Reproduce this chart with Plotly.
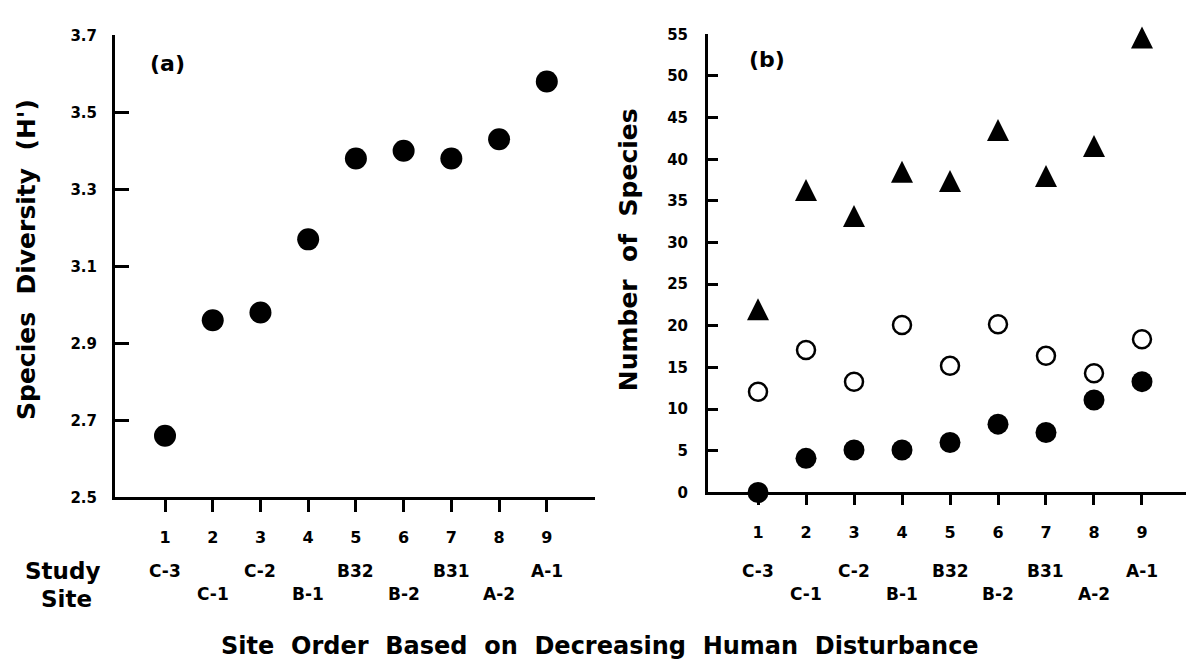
import plotly.graph_objects as go

# ---------------- data ----------------
site_order = [1, 2, 3, 4, 5, 6, 7, 8, 9]
site_codes = ["C-3", "C-1", "C-2", "B-1", "B32", "B-2", "B31", "A-2", "A-1"]
diversity_h = [2.66, 2.96, 2.98, 3.17, 3.38, 3.40, 3.38, 3.43, 3.58]
species_triangles = [22, 36.3, 33.2, 38.5, 37.4, 43.5, 38, 41.6, 54.6]
species_open = [12.1, 17.1, 13.3, 20.1, 15.2, 20.2, 16.4, 14.3, 18.4]
species_filled = [0, 4.1, 5.1, 5.1, 6, 8.2, 7.2, 11.1, 13.3]
div_ticks = [2.5, 2.7, 2.9, 3.1, 3.3, 3.5, 3.7]
species_ticks = [0, 5, 10, 15, 20, 25, 30, 35, 40, 45, 50, 55]

W, H = 1186, 662
FONT = "DejaVu Sans"

def px_x(p):
    return p / W

def px_y(p):
    return 1 - p / H

fig = go.Figure()

# panel (a)
fig.add_trace(go.Scatter(
    x=site_order, y=diversity_h, mode="markers", name="Species diversity",
    marker=dict(symbol="circle", size=22, color="black"),
    xaxis="x", yaxis="y", cliponaxis=False, showlegend=False))

# panel (b)
fig.add_trace(go.Scatter(
    x=site_order, y=species_triangles, mode="markers", name="Triangles",
    marker=dict(symbol="arrow-down", angle=180, standoff=11, size=22, color="black"),
    xaxis="x2", yaxis="y2", cliponaxis=False, showlegend=False))
fig.add_trace(go.Scatter(
    x=site_order, y=species_open, mode="markers", name="Open circles",
    marker=dict(symbol="circle", size=18, color="white",
                line=dict(color="black", width=2.5)),
    xaxis="x2", yaxis="y2", cliponaxis=False, showlegend=False))
fig.add_trace(go.Scatter(
    x=site_order, y=species_filled, mode="markers", name="Filled circles",
    marker=dict(symbol="circle", size=21, color="black"),
    xaxis="x2", yaxis="y2", cliponaxis=False, showlegend=False))

axis_common = dict(showline=True, linewidth=3, linecolor="black", showgrid=False,
                   zeroline=False, tickcolor="black", tickwidth=2.5)

fig.update_layout(
    width=W, height=H,
    margin=dict(l=0, r=0, t=0, b=0),
    paper_bgcolor="white", plot_bgcolor="rgba(0,0,0,0)",
    font=dict(family=FONT, color="black", weight="bold"),
    xaxis=dict(domain=[px_x(115), px_x(595)], range=[-0.048, 10.01],
               tickvals=site_order, ticktext=[str(v) for v in site_order],
               ticks="outside", ticklen=12, ticklabelstandoff=11,
               tickfont=dict(size=16, family=FONT, weight="bold"),
               anchor="y", **axis_common),
    yaxis=dict(domain=[px_y(502), px_y(27)], range=[2.5, 3.7],
               tickvals=div_ticks, ticktext=[f"{v:.1f}" for v in div_ticks],
               ticks="inside", ticklen=14, ticklabelstandoff=12,
               tickfont=dict(size=15, family=FONT, weight="bold"),
               anchor="x", **axis_common),
    xaxis2=dict(domain=[px_x(708), 1.0], range=[-0.042, 9.917],
                tickvals=site_order, ticktext=[str(v) for v in site_order],
                ticks="outside", ticklen=10, ticklabelstandoff=13,
                tickfont=dict(size=16, family=FONT, weight="bold"),
                anchor="y2", **axis_common),
    yaxis2=dict(domain=[px_y(497), px_y(26)], range=[0, 55],
                tickvals=species_ticks, ticktext=[str(v) for v in species_ticks],
                ticks="inside", ticklen=10, ticklabelstandoff=14,
                tickfont=dict(size=15, family=FONT, weight="bold"),
                anchor="x2", **axis_common),
)

ann = []
# panel labels
ann.append(dict(text="(a)", x=px_x(167), y=px_y(56), xref="paper", yref="paper",
                showarrow=False, font=dict(size=22), xanchor="center", yanchor="middle"))
ann.append(dict(text="(b)", x=px_x(767), y=px_y(52), xref="paper", yref="paper",
                showarrow=False, font=dict(size=22), xanchor="center", yanchor="middle"))
# axis titles
ann.append(dict(text="Species\u00a0 Diversity\u00a0 (H')", x=px_x(27), y=px_y(258),
                xref="paper", yref="paper", showarrow=False, textangle=-90,
                font=dict(size=25), xanchor="center", yanchor="middle"))
ann.append(dict(text="Number\u00a0 of\u00a0 Species", x=px_x(628), y=px_y(248),
                xref="paper", yref="paper", showarrow=False, textangle=-90,
                font=dict(size=25), xanchor="center", yanchor="middle"))
ann.append(dict(text="Site\u00a0 Order\u00a0 Based\u00a0 on\u00a0 Decreasing\u00a0 Human\u00a0 Disturbance",
                x=px_x(600), y=px_y(655), xref="paper", yref="paper", showarrow=False,
                font=dict(size=24), xanchor="center", yanchor="middle"))
ann.append(dict(text="Study", x=px_x(62), y=px_y(578), xref="paper", yref="paper",
                showarrow=False, font=dict(size=23), xanchor="center", yanchor="middle"))
ann.append(dict(text="Site", x=px_x(66), y=px_y(607), xref="paper", yref="paper",
                showarrow=False, font=dict(size=23), xanchor="center", yanchor="middle"))

# study site codes under each panel
for xr in ("x", "x2"):
    for i, (pos, code) in enumerate(zip(site_order, site_codes)):
        row_y = 578 if i % 2 == 0 else 601
        ann.append(dict(text=code, x=pos, y=px_y(row_y), xref=xr, yref="paper",
                        showarrow=False, font=dict(size=17),
                        xanchor="center", yanchor="middle"))

fig.update_layout(annotations=ann)
fig.write_html("out.html")
